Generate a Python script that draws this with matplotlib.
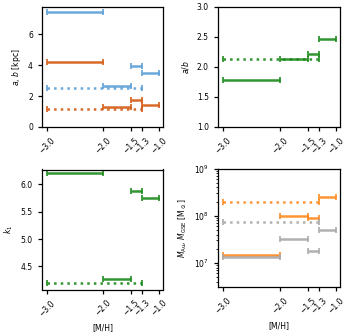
import matplotlib
matplotlib.use("Agg")
import matplotlib.pyplot as plt
import numpy as np

# bins in [M/H]
bin_lo = [-3.0, -2.0, -1.5, -1.3]
bin_hi = [-2.0, -1.5, -1.3, -1.0]
all_lo, all_hi = -3.0, -1.3
xticks = [-3.0, -2.0, -1.5, -1.3, -1.0]
xticklabels = ["\u22123.0", "\u22122.0", "\u22121.5", "\u22121.3", "\u22121.0"]

a_bins = [7.40, 2.68, 3.92, 3.50]
a_all = 2.54
b_bins = [4.17, 1.27, 1.77, 1.41]
b_all = 1.19
ab_bins = [1.78, 2.13, 2.21, 2.47]
ab_all = 2.14
k1_bins = [6.20, 4.28, 5.87, 5.75]
k1_all = 4.20
mau_bins = [1.5e7, 9.8e7, 9.1e7, 2.5e8]
mau_all = 2.0e8
mgse_bins = [1.33e7, 3.2e7, 1.77e7, 5.0e7]
mgse_all = 7.4e7

c_blue = "#5b9fd6"
c_dorange = "#d45a12"
c_green = "#1a8a1a"
c_orange = "#ff8a1e"
c_grey = "#a9a9a9"

fs = 5.5
plt.rcParams.update({
    "font.size": fs,
    "xtick.labelsize": fs,
    "ytick.labelsize": fs,
    "axes.labelsize": fs,
    "axes.linewidth": 0.9,
    "xtick.major.width": 0.9,
    "ytick.major.width": 0.9,
    "xtick.major.size": 3,
    "ytick.major.size": 3,
    "ytick.minor.size": 1.8,
    "ytick.minor.width": 0.6,
})

fig = plt.figure(figsize=(3.49, 3.36), dpi=100)
W, H = 349, 336
def pos(l, r, t, b):
    return [l / W, 1 - b / H, (r - l) / W, (b - t) / H]

ax1 = fig.add_axes(pos(42, 163, 7, 127))
ax2 = fig.add_axes(pos(218, 340, 7, 127))
ax3 = fig.add_axes(pos(42, 163, 169.5, 289.5))
ax4 = fig.add_axes(pos(218, 340, 168.5, 287))

lo = np.array(bin_lo); hi = np.array(bin_hi)
mid = (lo + hi) / 2; half = (hi - lo) / 2

def draw(ax, vals, allv, color):
    ax.errorbar(mid, vals, xerr=half, fmt='none', ecolor=color,
                elinewidth=1.8, capsize=2.2, capthick=1.3, alpha=0.9)
    eb = ax.errorbar([(all_lo + all_hi) / 2], [allv], xerr=[(all_hi - all_lo) / 2],
                     fmt='none', ecolor=color, elinewidth=1.8, capsize=2.2,
                     capthick=1.3, alpha=0.9)
    for lc in eb[2]:
        lc.set_linestyle(':')

draw(ax1, a_bins, a_all, c_blue)
draw(ax1, b_bins, b_all, c_dorange)
ax1.set_ylim(0, 7.75)
ax1.set_yticks([0, 2, 4, 6])
ax1.set_ylabel("$a$, $b$ [kpc]")

draw(ax2, ab_bins, ab_all, c_green)
ax2.set_ylim(1.0, 3.0)
ax2.set_yticks([1.0, 1.5, 2.0, 2.5, 3.0])
ax2.set_ylabel("$a/b$")

draw(ax3, k1_bins, k1_all, c_green)
ax3.set_ylim(4.08, 6.27)
ax3.set_yticks([4.5, 5.0, 5.5, 6.0])
ax3.set_ylabel("$k_1$")

ax4.set_yscale("log")
draw(ax4, mau_bins, mau_all, c_orange)
draw(ax4, mgse_bins, mgse_all, c_grey)
ax4.set_ylim(3.1e6, 1e9)
ax4.set_ylabel(r"$M_{\rm Au}$, $M_{\rm GSE}$ [M$_\odot$]")

for ax in (ax1, ax2, ax3, ax4):
    ax.set_xlim(-3.09, -0.93)
    ax.set_xticks(xticks)
    ax.set_xticklabels(xticklabels, rotation=45, ha='center')
for ax in (ax3, ax4):
    ax.set_xlabel("[M/H]")

fig.savefig("out.png", dpi=100)
